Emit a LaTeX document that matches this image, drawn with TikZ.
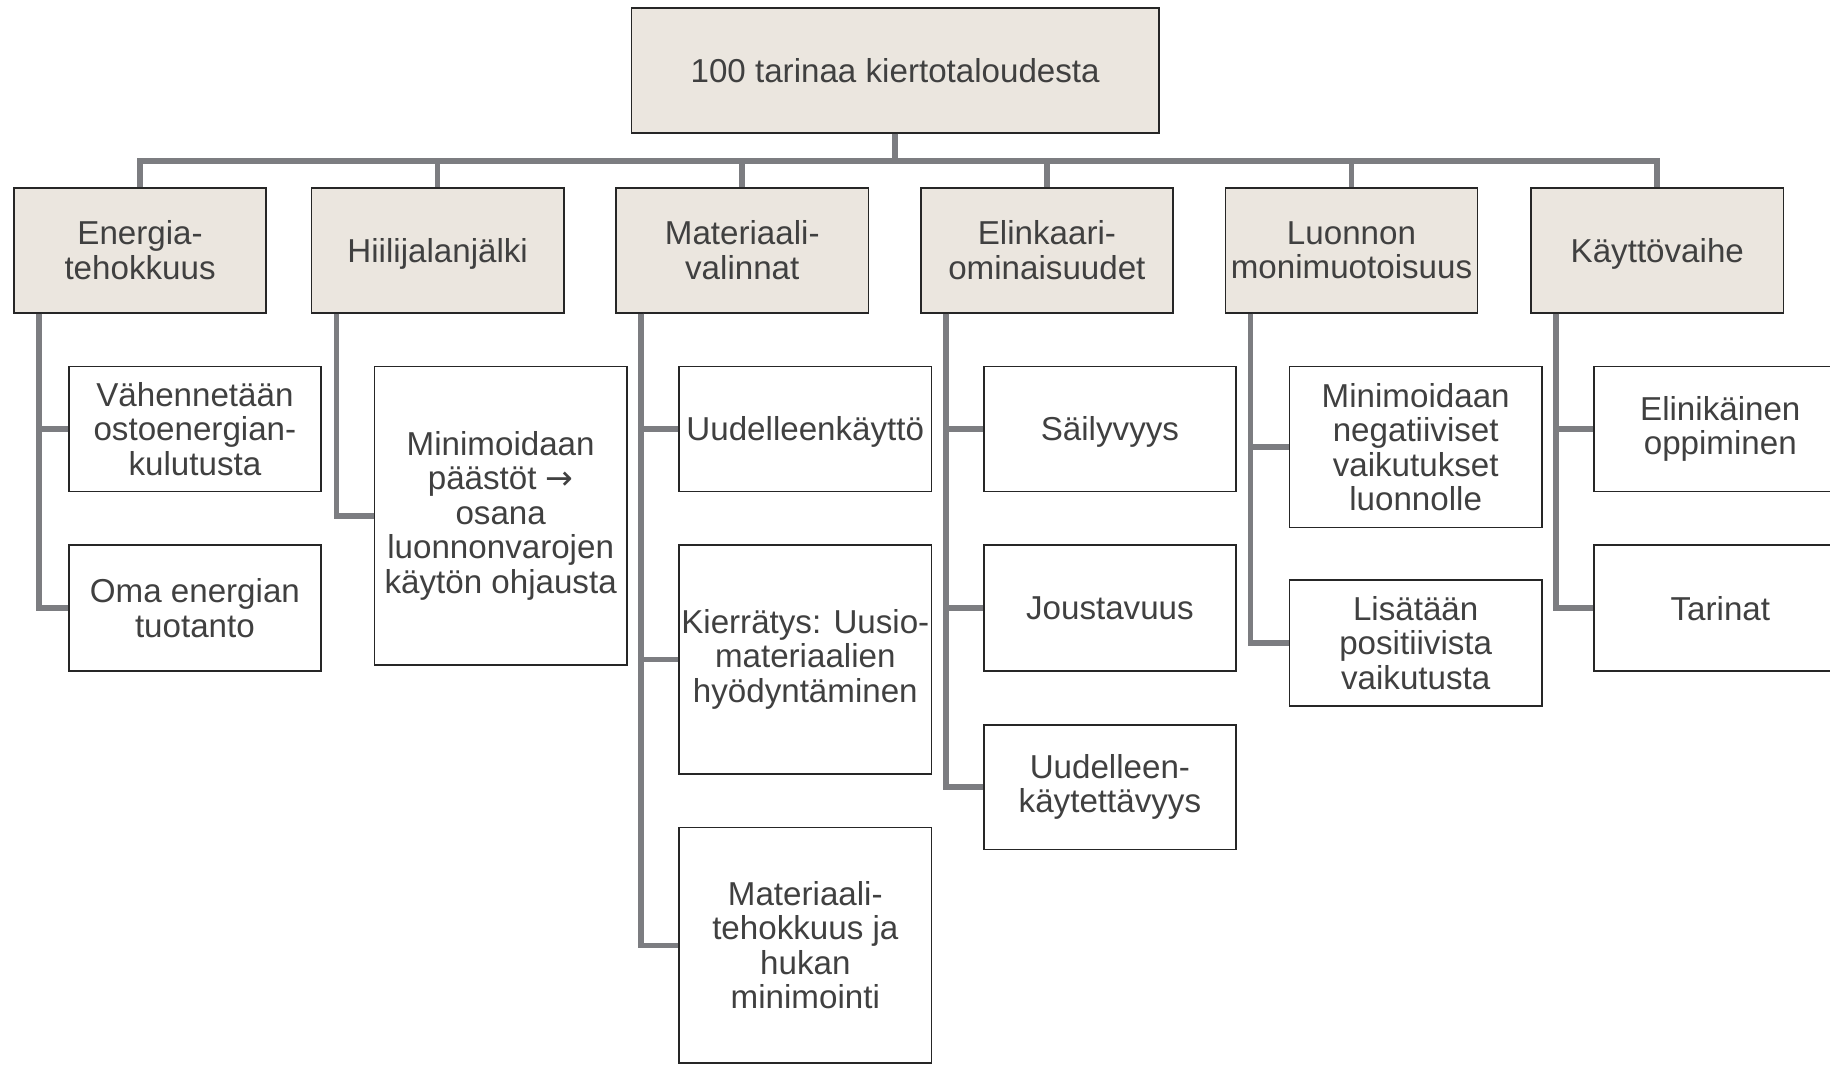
\documentclass[tikz,border=0pt]{standalone}
\usepackage{fontspec}
\setmainfont{Liberation Sans}
\newfontfamily\arrowfont{DejaVu Sans}
\usetikzlibrary{positioning}
\definecolor{boxfill}{HTML}{EBE6DF}
\definecolor{linkgray}{HTML}{7C7D81}
\definecolor{txtgray}{HTML}{404040}
\definecolor{edgegray}{HTML}{262626}

\begin{document}
\begin{tikzpicture}[x=0.5pt,y=-0.5pt,
  box/.style={draw=edgegray, line width=0.7pt, text=txtgray, align=center,
    inner sep=0pt, minimum width=108pt, font=\fontsize{14.2}{14.75}\selectfont},
  title/.style={box, fill=boxfill, minimum width=226pt, minimum height=53.5pt},
  topic/.style={box, fill=boxfill, minimum height=53.5pt},
  item/.style={box, fill=white},
  oneline/.style={text depth=0pt},
  link/.style={draw=linkgray, line width=2.4pt}]
  \useasboundingbox (0,0) rectangle (1568,913);

  % Root
  \node[title] (root) at (767,60.5) {100 tarinaa kiertotaloudesta};

  % Topics
  \node[topic] (ene) at (120,214.5)  {Energia-\\tehokkuus};
  \node[topic, oneline] (hii) at (375,214.5)  {Hiilijalanjälki};
  \node[topic] (mat) at (636,214.5)  {Materiaali-\\valinnat};
  \node[topic] (eli) at (897,214.5)  {Elinkaari-\\ominaisuudet};
  \node[topic] (luo) at (1158,214.5) {Luonnon\\monimuotoisuus};
  \node[topic, oneline] (kay) at (1420,214.5) {Käyttövaihe};

  % Bus from root to topics
  \foreach \t in {ene,hii,mat,eli,luo,kay}
    \draw[link] (root.south) -- ++(0,23) -| (\t.north);

  % Energiatehokkuus
  \node[item, minimum height=53.5pt] (ene1) at (167,367.5) {Vähennetään\\ostoenergian-\\kulutusta};
  \node[item, minimum height=54pt]   (ene2) at (167,521)   {Oma energian\\tuotanto};

  % Hiilijalanjälki
  \node[item, minimum height=128pt] (hii1) at (429,442) {Minimoidaan\\päästöt {\arrowfont →}\\osana\\luonnonvarojen\\käytön ohjausta};

  % Materiaalivalinnat
  \node[item, oneline, minimum height=53.5pt] (mat1) at (690,367.5) {Uudelleenkäyttö};
  \node[item, minimum height=98pt]   (mat2) at (690,565)   {Kierrätys: Uusio-\\materiaalien\\hyödyntäminen};
  \node[item, minimum height=101pt]  (mat3) at (690,810)   {Materiaali-\\tehokkuus ja\\hukan\\minimointi};

  % Elinkaariominaisuudet
  \node[item, oneline, minimum height=53.5pt] (eli1) at (951,367.5) {Säilyvyys};
  \node[item, oneline, minimum height=54pt]   (eli2) at (951,521)   {Joustavuus};
  \node[item, minimum height=53.5pt] (eli3) at (951,674.5) {Uudelleen-\\käytettävyys};

  % Luonnon monimuotoisuus
  \node[item, minimum height=69pt] (luo1) at (1213,383) {Minimoidaan\\negatiiviset\\vaikutukset\\luonnolle};
  \node[item, minimum height=54pt] (luo2) at (1213,551) {Lisätään\\positiivista\\vaikutusta};

  % Käyttövaihe
  \node[item, minimum height=53.5pt] (kay1) at (1474,367.5) {Elinikäinen\\oppiminen};
  \node[item, oneline, minimum height=54pt]   (kay2) at (1474,521)   {Tarinat};

  % Topic-to-item links
  \foreach \p/\c in {ene/ene1,ene/ene2,hii/hii1,mat/mat1,mat/mat2,mat/mat3,
                     eli/eli1,eli/eli2,eli/eli3,luo/luo1,luo/luo2,kay/kay1,kay/kay2}
    \draw[link] (\p.south west) ++(22,0) |- (\c.west);
\end{tikzpicture}
\end{document}
